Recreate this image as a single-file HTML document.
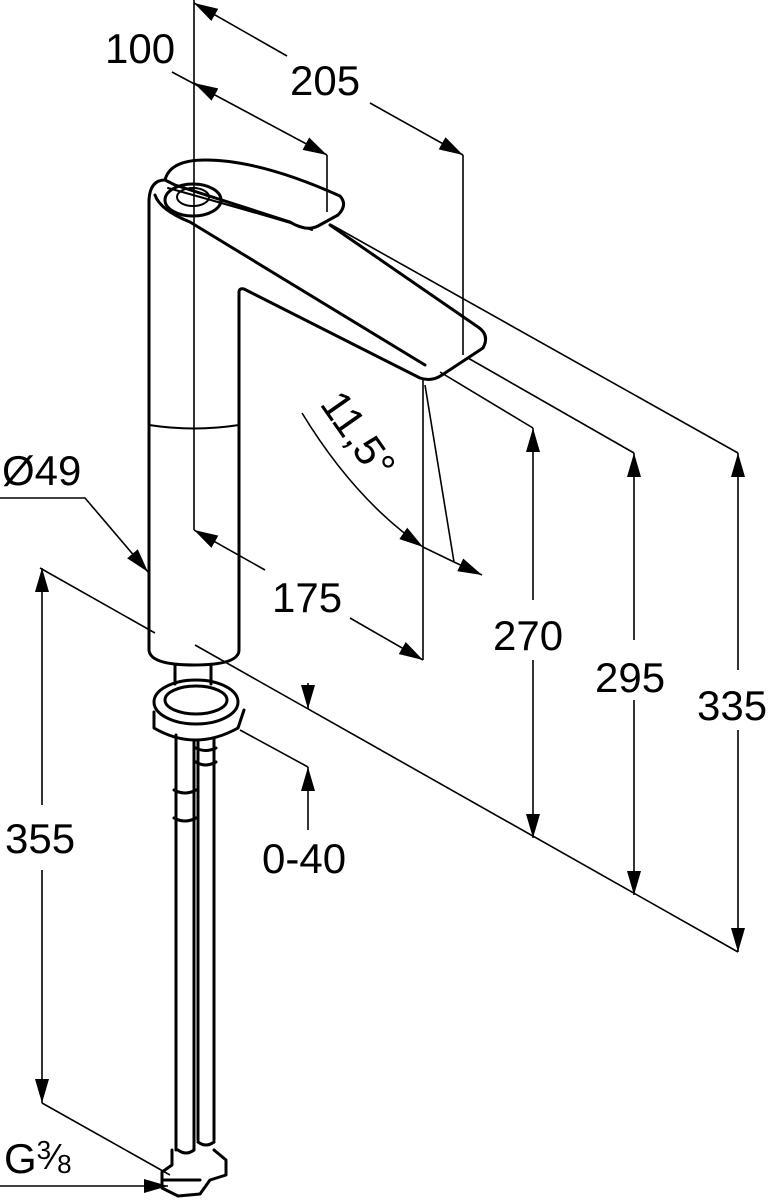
<!DOCTYPE html>
<html><head><meta charset="utf-8"><style>
html,body{margin:0;padding:0;background:#fff}
svg{display:block}
text{font-family:"Liberation Sans",Arial,sans-serif;font-size:42px;fill:#000}
</style></head><body>
<svg width="770" height="1200" viewBox="0 0 770 1200" xmlns="http://www.w3.org/2000/svg">
<defs>
<marker id="a" viewBox="0 0 24 14" refX="24" refY="7" markerWidth="24" markerHeight="14" markerUnits="userSpaceOnUse" orient="auto-start-reverse">
<path d="M0,0 L24,7 L0,14 z" fill="#000"/></marker>
</defs>
<g stroke="#000" stroke-width="1.6" fill="none">
<line x1="194" y1="0" x2="194" y2="530"/>
<line x1="287" y1="56" x2="194" y2="3" marker-end="url(#a)"/>
<line x1="370" y1="103" x2="463" y2="155" marker-end="url(#a)"/>
<line x1="463" y1="155" x2="463" y2="355"/>
<line x1="172" y1="72" x2="327" y2="155" marker-end="url(#a)"/>
<line x1="214" y1="94" x2="194" y2="83" marker-end="url(#a)"/>
<line x1="327" y1="155" x2="327" y2="212"/>
<line x1="265" y1="570" x2="194" y2="530" marker-end="url(#a)"/>
<line x1="350" y1="618" x2="423" y2="660" marker-end="url(#a)"/>
<line x1="423" y1="380" x2="423" y2="660"/>
<line x1="425" y1="385" x2="454" y2="562"/>
<path d="M302,413 Q355,500 423,547" marker-end="url(#a)"/>
<path d="M423,547 L454,562"/>
<line x1="454" y1="562" x2="482" y2="575" marker-end="url(#a)"/>
<line x1="440" y1="372" x2="533" y2="428"/>
<line x1="468" y1="358" x2="634" y2="453"/>
<line x1="330" y1="224" x2="738" y2="453"/>
<line x1="195" y1="645" x2="738" y2="952"/>
<line x1="533" y1="600" x2="533" y2="428" marker-end="url(#a)"/>
<line x1="533" y1="660" x2="533" y2="838" marker-end="url(#a)"/>
<line x1="634" y1="640" x2="634" y2="453" marker-end="url(#a)"/>
<line x1="634" y1="700" x2="634" y2="895" marker-end="url(#a)"/>
<line x1="738" y1="670" x2="738" y2="453" marker-end="url(#a)"/>
<line x1="738" y1="730" x2="738" y2="952" marker-end="url(#a)"/>
<path d="M0,498 L85,498 L148,572" marker-end="url(#a)"/>
<line x1="40" y1="568" x2="155" y2="633"/>
<line x1="42" y1="805" x2="42" y2="568" marker-end="url(#a)"/>
<line x1="42" y1="870" x2="42" y2="1103" marker-end="url(#a)"/>
<line x1="42" y1="1103" x2="170" y2="1175"/>
<line x1="308" y1="683" x2="308" y2="709" marker-end="url(#a)"/>
<line x1="240" y1="730" x2="308" y2="767"/>
<line x1="308" y1="830" x2="308" y2="767" marker-end="url(#a)"/>
<line x1="0" y1="1186" x2="168" y2="1186" marker-end="url(#a)"/>
</g>
<g stroke="#000" stroke-width="3" fill="none" stroke-linejoin="round" stroke-linecap="round">
<path d="M149,650 L149,200 Q150,180 165,180 M149,650 Q150,665 194,665 Q239,665 239,650 L239,292 Q239,288 244,289 L420,378 Q432,382 442,375 L483,348 Q490,335 478,327 L330,225"/>
<path d="M155,195 Q160,210 190,222 L425,365"/>
<path d="M149,425 Q194,432 239,425" stroke-width="2"/>
<path d="M165,180 Q170,160 205,160 Q260,160 340,196 Q348,205 338,215 L318,226 Q306,232 290,222 L175,185 Z"/>
<path d="M168,188 Q300,225 312,230" stroke-width="2"/>
<ellipse cx="193" cy="200" rx="28" ry="16"/>
<ellipse cx="193" cy="197" rx="16" ry="9" stroke-width="2"/>
<ellipse cx="196" cy="702" rx="42" ry="22"/>
<ellipse cx="196" cy="700" rx="31" ry="14"/>
<path d="M154,712 L154,728 Q195,752 238,728 L244,710"/>
<path d="M175,665 L175,684 M211,665 L211,684"/>
<path d="M176,735 L176,1150 M194,742 L194,1150 M198,742 L198,1140 M214,738 L214,1140"/>
<path d="M174,790 Q185,796 196,790 M174,818 Q185,824 196,818 M196,748 Q205,753 216,748 M196,762 Q205,768 216,762"/>
<path d="M172,1150 L172,1165 L162,1172 L162,1188 L178,1196 L200,1194 L210,1180 L226,1175 L226,1160 L214,1150"/>
<path d="M178,1150 Q186,1156 194,1150 M198,1142 Q206,1148 214,1142 M162,1180 L200,1180"/>
</g>
<g>
<text x="105" y="63">100</text>
<text x="290" y="95">205</text>
<text x="2" y="485">Ø49</text>
<text x="272" y="612">175</text>
<text x="493" y="650">270</text>
<text x="595" y="692">295</text>
<text x="697" y="720">335</text>
<text x="5" y="853">355</text>
<text x="262" y="873">0-40</text>
<text x="4" y="1173">G<tspan font-size="26" dy="-14">3</tspan><tspan font-size="36" dy="10">⁄</tspan><tspan font-size="26" dy="4">8</tspan></text>
<text x="0" y="0" transform="translate(319,404) rotate(55)">11,5°</text>
</g>
</svg>
</body></html>
